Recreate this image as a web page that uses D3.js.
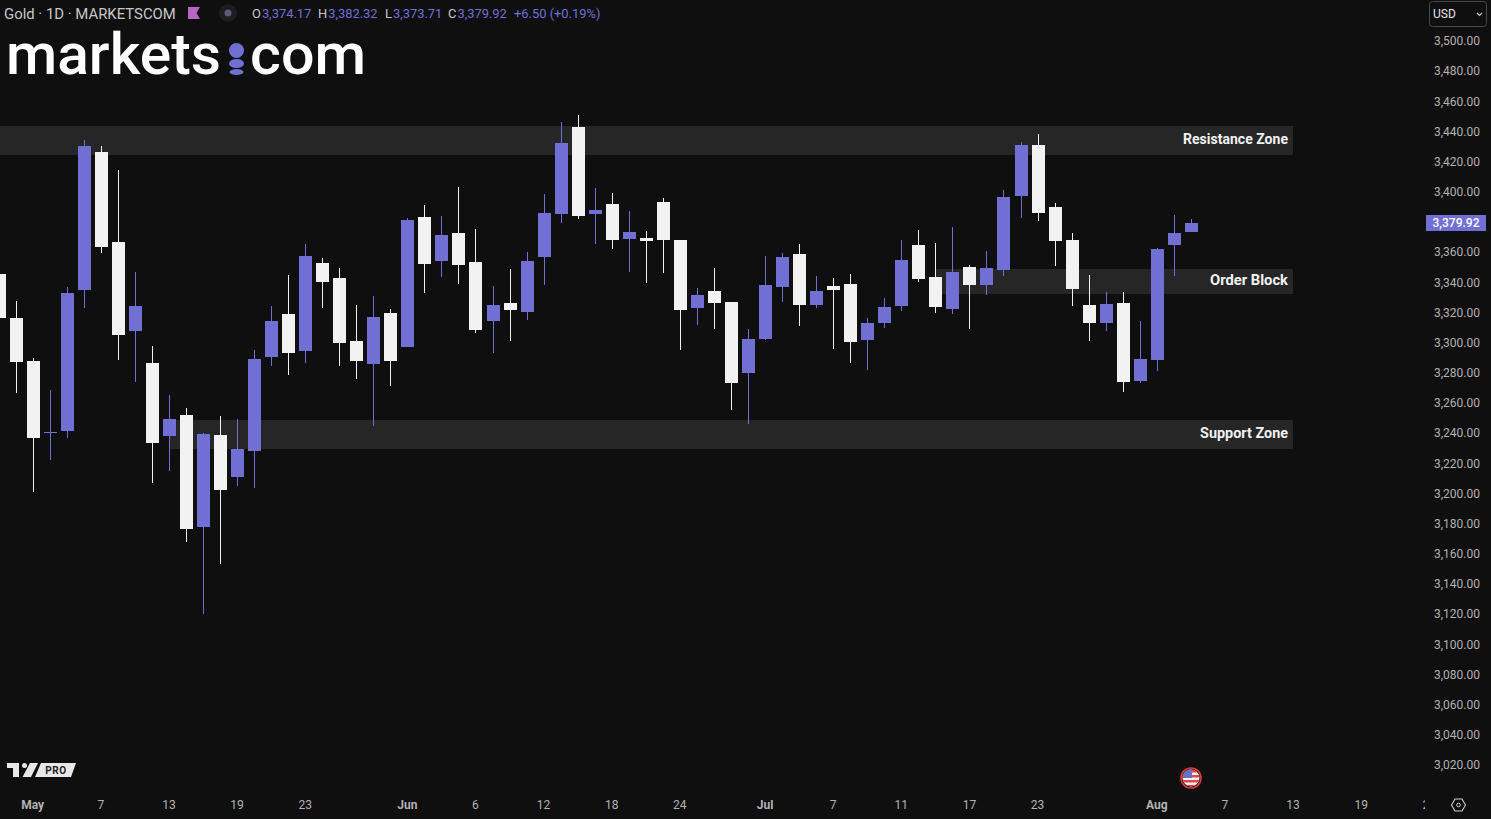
<!DOCTYPE html>
<html><head><meta charset="utf-8">
<style>
html,body{margin:0;padding:0;background:#0f0f0f;overflow:hidden}
svg{display:block}
text{font-family:Roboto,"Noto Sans",sans-serif}
</style>
<script src="https://cdn.jsdelivr.net/npm/d3@7"></script>
</head><body>
<svg id="c" width="1491" height="819"></svg>
<script>
const opens=[3345.2,3316.0,3287.5,3239.8,3241.1,3334.6,3426.1,3366.4,3307.4,3286.2,3237.8,3251.7,3177.4,3238.4,3210.6,3227.8,3290.2,3318.7,3294.1,3352.5,3342.5,3300.8,3285.5,3319.3,3296.8,3383.0,3353.8,3372.4,3353.1,3314.0,3326.0,3320.0,3356.5,3385.0,3442.6,3385.0,3391.6,3368.4,3369.1,3392.9,3367.7,3322.6,3333.9,3326.6,3279.6,3302.1,3336.6,3358.5,3324.6,3337.2,3338.6,3301.4,3312.7,3324.0,3364.4,3343.2,3322.0,3349.8,3337.9,3347.8,3396.9,3430.7,3389.6,3367.7,3324.6,3312.7,3326.0,3274.2,3288.2,3364.4,3373.0];
const highs=[3345.2,3327.3,3289.5,3268.3,3336.6,3434.0,3430.1,3414.1,3346.5,3297.5,3265.0,3256.3,3239.8,3251.0,3249.1,3294.8,3324.0,3344.5,3365.1,3355.8,3349.2,3324.6,3330.6,3322.0,3382.3,3390.9,3383.6,3402.9,3375.0,3337.2,3348.5,3359.8,3398.2,3446.0,3450.6,3402.2,3398.9,3387.0,3373.7,3395.6,3367.7,3335.9,3349.2,3326.6,3308.7,3357.1,3359.1,3365.1,3343.9,3342.5,3345.2,3316.0,3329.3,3367.7,3374.4,3365.7,3376.3,3351.2,3360.4,3400.9,3432.7,3438.0,3392.3,3372.4,3344.5,3333.3,3333.3,3314.0,3362.4,3384.3,3381.7];
const lows=[3316.0,3266.3,3200.7,3221.9,3236.5,3322.6,3359.1,3288.2,3273.6,3206.6,3214.6,3167.5,3119.8,3152.9,3204.6,3203.3,3284.2,3278.2,3286.2,3322.6,3284.2,3275.6,3244.4,3270.9,3296.8,3332.6,3343.2,3338.6,3306.1,3292.8,3300.8,3314.7,3337.9,3379.0,3381.7,3365.1,3361.8,3346.5,3339.2,3345.9,3294.8,3311.4,3308.7,3255.0,3245.7,3301.4,3326.6,3310.7,3322.6,3295.5,3286.2,3281.5,3309.4,3320.7,3339.9,3319.3,3318.7,3308.7,3331.3,3343.9,3382.3,3380.3,3350.5,3324.0,3300.8,3307.4,3267.0,3272.9,3280.9,3343.9,3373.0];
const closes=[3316.0,3286.8,3236.5,3240.4,3332.6,3430.1,3363.1,3304.7,3324.0,3233.1,3249.1,3176.1,3239.1,3202.0,3229.2,3288.8,3314.0,3292.8,3357.1,3339.9,3299.4,3287.5,3316.7,3287.5,3381.0,3351.8,3371.0,3351.2,3308.1,3324.6,3321.3,3353.8,3385.6,3432.0,3383.6,3387.6,3367.7,3373.0,3367.1,3367.7,3321.3,3331.3,3326.0,3272.9,3302.1,3337.9,3356.5,3324.6,3333.9,3334.6,3300.1,3312.7,3323.3,3354.5,3341.9,3323.3,3346.5,3337.9,3349.2,3396.2,3430.7,3385.6,3367.1,3335.2,3312.7,3325.3,3273.6,3288.8,3361.8,3372.4,3379.0];

const priceTicks=[3500,3480,3460,3440,3420,3400,3380,3360,3340,3320,3300,3280,3260,3240,3220,3200,3180,3160,3140,3120,3100,3080,3060,3040,3020];
const dateTickBars=[2,6,10,14,18,24,28,32,36,40,45,49,53,57,61,68,72,76,80,84];
const dateTickLabels=["May","7","13","19","23","Jun","6","12","18","24","Jul","7","11","17","23","Aug","7","13","19","25"];
const monthLabels=["May","Jun","Jul","Aug"];

const zoneNames=["Resistance Zone","Order Block","Support Zone"];
const zoneTop=[3443.3,3348.5,3248.4];
const zoneBottom=[3424.1,3331.9,3229.2];
const zoneStartBar=[-2,55,10];

const legendTitle="Gold · 1D · MARKETSCOM";
const lastPriceLabel="3,379.92";
const legendPairs=[["O","3,374.17"],["H","3,382.32"],["L","3,373.71"],["C","3,379.92"]];
const legendChange="+6.50 (+0.19%)";

const UP="#716fd3",DOWN="#f2f2f2",BG="#0f0f0f",ZONE="#262626",AXIS="#b2b2b2";
const svg=d3.select("#c");
const x=d3.scaleLinear().domain([0,70]).range([-0.93,1191.33]);
const y=d3.scaleLinear().domain([3500,3020]).range([40.5,764.5]);
const px=i=>Math.floor(x(i));
const py=v=>Math.round(y(v));

const defs=svg.append("defs");
defs.append("clipPath").attr("id","pane").append("rect").attr("x",0).attr("y",0).attr("width",1426).attr("height",819);
defs.append("clipPath").attr("id","flagc").append("circle").attr("cx",1191).attr("cy",778).attr("r",8.5);

svg.append("rect").attr("width",1491).attr("height",819).attr("fill",BG);

// zones
const zones=svg.append("g").attr("clip-path","url(#pane)");
zones.selectAll("rect").data(zoneNames).join("rect")
 .attr("x",(d,i)=>Math.floor(x(zoneStartBar[i]))).attr("width",(d,i)=>1293-Math.floor(x(zoneStartBar[i])))
 .attr("y",(d,i)=>py(zoneTop[i])).attr("height",(d,i)=>py(zoneBottom[i])-py(zoneTop[i]))
 .attr("fill",ZONE);

// candles
const candles=svg.append("g").selectAll("g").data(opens).join("g");
const col=(i)=>closes[i]>=opens[i]?UP:DOWN;
candles.append("rect").attr("class","wick")
 .attr("x",(d,i)=>px(i)).attr("width",1)
 .attr("y",(d,i)=>py(highs[i])).attr("height",(d,i)=>Math.max(0,py(lows[i])-py(highs[i])))
 .attr("fill",(d,i)=>col(i));
candles.append("rect").attr("class","body")
 .attr("x",(d,i)=>px(i)-6).attr("width",13)
 .attr("y",(d,i)=>py(Math.max(opens[i],closes[i])))
 .attr("height",(d,i)=>Math.max(1,py(Math.min(opens[i],closes[i]))-py(Math.max(opens[i],closes[i]))))
 .attr("fill",(d,i)=>col(i));

// zone labels
const zoneLabelWidth=[105,78,88];
svg.append("g").selectAll("text").data(zoneNames).join("text")
 .attr("x",1288).attr("y",(d,i)=>(py(zoneTop[i])+py(zoneBottom[i]))/2+3.7)
 .attr("text-anchor","end").attr("fill","#f2f2f2").attr("font-size",14).attr("font-weight",700)
 .attr("textLength",(d,i)=>zoneLabelWidth[i]).attr("lengthAdjust","spacingAndGlyphs")
 .text(d=>d);

// axes
const yAxis=d3.axisRight(y).tickValues(priceTicks).tickSize(0).tickPadding(0).tickFormat(d3.format(",.2f"));
const yG=svg.append("g").attr("transform","translate(1434,0.4)").call(yAxis);
yG.select(".domain").remove();
yG.selectAll("text").attr("fill",AXIS).attr("font-size",12).attr("font-family","Roboto");

const xAxis=d3.axisBottom(x).tickValues(dateTickBars).tickSize(0).tickPadding(0).tickFormat((d,i)=>dateTickLabels[i]);
const xG=svg.append("g").attr("transform","translate(-1,800)").attr("clip-path","url(#pane)").call(xAxis);
xG.select(".domain").remove();
xG.selectAll("text").attr("fill",AXIS).attr("font-size",12).attr("font-family","Roboto")
 .attr("font-weight",(d,i)=>monthLabels.includes(dateTickLabels[i])?700:400);

// last price tag
svg.append("rect").attr("x",1426).attr("y",py(closes[70])-8).attr("width",60).attr("height",16).attr("fill",UP);
svg.append("text").attr("x",1456).attr("y",py(closes[70])+3.8).attr("text-anchor","middle").attr("fill","#fff").attr("font-size",12).attr("font-weight",500).text(lastPriceLabel);

// legend
const lg=svg.append("g");
lg.append("text").attr("x",4).attr("y",18.5).attr("fill","#c8c8c8").attr("font-size",14.9).text(legendTitle);
lg.append("path").attr("d","M188 7H200L196.5 13L200 19H188Z").attr("fill","#b866c4");
lg.append("circle").attr("cx",228).attr("cy",13).attr("r",9).attr("fill","#1e1e1e");
lg.append("circle").attr("cx",228).attr("cy",13).attr("r",3.5).attr("fill","#5c5c78");
const legendX=[252,318,385,448];
legendPairs.forEach((p,i)=>{
 const t=lg.append("text").attr("x",legendX[i]).attr("y",18).attr("font-size",12.9);
 t.append("tspan").attr("fill","#c8c8c8").text(p[0]);
 t.append("tspan").attr("fill",UP).attr("dx",1).text(p[1]);
});
lg.append("text").attr("x",514).attr("y",18).attr("font-size",12.9).attr("fill",UP).text(legendChange);

// logo
const logo=svg.append("g");
logo.append("text").attr("x",6).attr("y",74).attr("fill","#fff").attr("font-size",58).attr("font-family","Inter").attr("font-weight",500)
 .attr("textLength",215).attr("lengthAdjust","spacingAndGlyphs").text("markets");
logo.append("text").attr("x",250).attr("y",74).attr("fill","#fff").attr("font-size",58).attr("font-family","Inter").attr("font-weight",500)
 .attr("textLength",116).attr("lengthAdjust","spacingAndGlyphs").text("com");
logo.append("circle").attr("cx",236.5).attr("cy",50.5).attr("r",7.5).attr("fill",UP);
logo.append("ellipse").attr("cx",236.5).attr("cy",63.5).attr("rx",7.5).attr("ry",4.5).attr("fill",UP);
logo.append("ellipse").attr("cx",236.5).attr("cy",72).attr("rx",7).attr("ry",3).attr("fill",UP);

// USD selector
svg.append("rect").attr("x",1429.5).attr("y",1.5).attr("width",57).attr("height",25).attr("rx",3).attr("fill",BG).attr("stroke","#4a4a4a");
svg.append("text").attr("x",1433).attr("y",18).attr("fill","#e6e6ee").attr("font-size",12).text("USD");
svg.append("path").attr("d","M1477 13l2.5 2.5l2.5-2.5").attr("fill","none").attr("stroke","#c8c8c8").attr("stroke-width",1.2);

// TV logo
const tv=svg.append("g").attr("fill","#e8e8e8");
tv.append("path").attr("d","M7 763H19V777H13V768H7Z");
tv.append("circle").attr("cx",24.5).attr("cy",765.5).attr("r",2.5);
tv.append("path").attr("d","M30 763H38L31 777H22.5Z");
tv.append("path").attr("d","M41 763H76L71 777H35Z");
svg.append("text").attr("x",56).attr("y",773.5).attr("text-anchor","middle").attr("fill","#222").attr("font-size",10).attr("font-weight",700).attr("letter-spacing",0.6).text("PRO");

// flag
const flag=svg.append("g");
flag.append("circle").attr("cx",1191).attr("cy",778).attr("r",8.5).attr("fill","#f2f2f2");
const fl=flag.append("g").attr("clip-path","url(#flagc)");
[770,775,780,785].forEach(v=>fl.append("rect").attr("x",1182).attr("y",v).attr("width",18).attr("height",2.5).attr("fill","#e04848"));
fl.append("rect").attr("x",1182).attr("y",769).attr("width",10).attr("height",9).attr("fill","#6a6fc8");
flag.append("circle").attr("cx",1191).attr("cy",778).attr("r",10).attr("fill","none").attr("stroke","#e03a3a").attr("stroke-width",1.6);

// settings
svg.append("path").attr("d","M1451.5 805l3.5-6h7l3.5 6l-3.5 6h-7z").attr("fill","none").attr("stroke","#d0d0d0").attr("stroke-width",1.1);
svg.append("circle").attr("cx",1458.5).attr("cy",805).attr("r",1.8).attr("fill","none").attr("stroke","#d0d0d0").attr("stroke-width",1);
</script>
</body></html>
